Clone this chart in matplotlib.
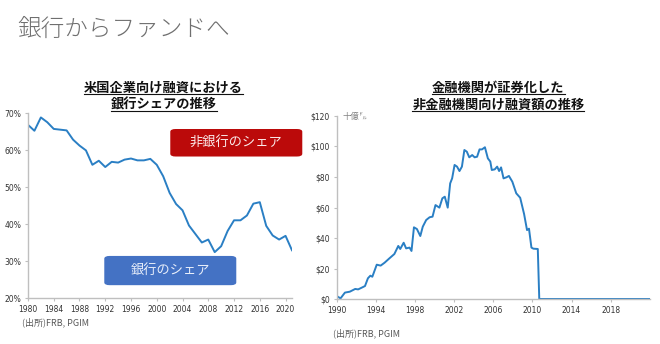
import matplotlib
matplotlib.use("Agg")
import matplotlib.pyplot as plt
from matplotlib.patches import FancyBboxPatch

plt.rcParams['font.family'] = ['Noto Sans CJK JP', 'DejaVu Sans']

# left chart: bank share of US corporate lending (%)
share_years = list(range(1980, 2022))
bank_share = [66.8, 65.2, 68.8, 67.5, 65.7, 65.5, 65.3, 62.8, 61.2, 59.9,
              56.0, 57.1, 55.4, 56.8, 56.6, 57.4, 57.7, 57.2, 57.2, 57.6,
              56.0, 52.9, 48.4, 45.4, 43.7, 39.6, 37.3, 35.0, 35.8, 32.4,
              34.0, 38.1, 41.0, 41.0, 42.3, 45.5, 45.9, 39.5, 36.9, 35.8,
              36.8, 32.9]
share_ticks = list(range(1980, 2021, 4))
pct_ticks = [20, 30, 40, 50, 60, 70]

# right chart: securitized loans to non-financial firms ($bn)
sec_years = [1990.0, 1990.4, 1990.85, 1991.35, 1991.9, 1992.2, 1992.65, 1992.9,
             1993.2, 1993.45, 1993.65, 1994.1, 1994.5, 1994.9, 1995.4, 1995.9,
             1996.3, 1996.5, 1996.85, 1997.1, 1997.45, 1997.65, 1997.9, 1998.2,
             1998.55, 1998.8, 1999.15, 1999.5, 1999.8, 2000.1, 2000.5, 2000.8,
             2001.05, 2001.35, 2001.6, 2001.8, 2002.05, 2002.3, 2002.55, 2002.8,
             2003.05, 2003.3, 2003.55, 2003.85, 2004.1, 2004.35, 2004.6, 2004.85,
             2005.15, 2005.45, 2005.7, 2005.85, 2006.15, 2006.4, 2006.6, 2006.8,
             2007.05, 2007.35, 2007.6, 2007.95, 2008.35, 2008.75, 2009.15, 2009.45,
             2009.65, 2009.9, 2010.1, 2010.55, 2010.7, 2014.0, 2018.0, 2022.0]
sec_values = [2.0, 0.4, 4.2, 4.8, 6.6, 6.3, 7.7, 8.5,
              13.6, 15.3, 14.6, 22.5, 21.9, 23.8, 26.7, 29.5,
              34.8, 32.8, 36.9, 33.2, 33.7, 31.5, 47.0, 45.9,
              41.3, 47.4, 51.8, 53.6, 54.0, 61.6, 59.9, 66.0,
              67.1, 59.9, 75.8, 79.1, 87.9, 86.8, 83.9, 86.8,
              97.7, 96.6, 92.9, 94.4, 92.9, 93.3, 98.1, 98.1,
              99.5, 92.2, 90.1, 84.6, 85.0, 86.8, 83.9, 86.3,
              79.1, 79.8, 80.7, 76.9, 69.3, 66.4, 55.7, 45.2,
              46.1, 33.7, 33.0, 32.8, 0.0, 0.0, 0.0, 0.0]
sec_ticks = list(range(1990, 2019, 4))
usd_ticks = [0, 20, 40, 60, 80, 100, 120]

line_color = '#2a7fc4'
axis_color = '#bfbfbf'
tick_font = ['Liberation Sans Narrow', 'DejaVu Sans']

fig = plt.figure(figsize=(6.6, 3.44), dpi=100)
fig.patch.set_facecolor('white')

fig.text(0.026, 0.915, '銀行からファンドへ', fontsize=17, color='#6f6f6f',
         fontweight='light', va='center')


def style_axes(ax):
    for side in ['top', 'right']:
        ax.spines[side].set_visible(False)
    for side in ['left', 'bottom']:
        ax.spines[side].set_color(axis_color)
        ax.spines[side].set_linewidth(1.0)
    ax.tick_params(length=2, width=0.8, color=axis_color, labelsize=5.5,
                   labelcolor='#333333', pad=3)
    for lab in ax.get_xticklabels() + ax.get_yticklabels():
        lab.set_family(tick_font)


# left chart
ax1 = fig.add_axes([0.0424, 0.1337, 0.4, 0.5378])
ax1.plot(share_years, bank_share, color=line_color, lw=1.4)
ax1.set_xlim(1980, 2021)
ax1.set_ylim(20, 70)
ax1.set_xticks(share_ticks)
ax1.set_yticks(pct_ticks)
ax1.set_yticklabels([f'{v}%' for v in pct_ticks])
style_axes(ax1)

for i, line in enumerate(['米国企業向け融資における', '銀行シェアの推移']):
    fig.text(0.248, 0.745 - i * 0.05, line, fontsize=9.5, fontweight='bold',
             ha='center', va='center', color='#111111')

# boxes
red_box = FancyBboxPatch((0.258, 0.545), 0.2, 0.08, boxstyle='round,pad=0,rounding_size=0.008',
                         transform=fig.transFigure, facecolor='#bb0a0a', edgecolor='none')
blue_box = FancyBboxPatch((0.158, 0.171), 0.2, 0.085, boxstyle='round,pad=0,rounding_size=0.008',
                          transform=fig.transFigure, facecolor='#4472c4', edgecolor='none')
fig.patches.extend([red_box, blue_box])
fig.text(0.358, 0.585, '非銀行のシェア', fontsize=9.5, color='#fbeaea', ha='center', va='center')
fig.text(0.258, 0.213, '銀行のシェア', fontsize=9.5, color='#e8eefa', ha='center', va='center')

fig.text(0.033, 0.064, '(出所)FRB, PGIM', fontsize=6.5, color='#595959', va='center')

# right chart
ax2 = fig.add_axes([0.510, 0.1308, 0.4747, 0.532])
ax2.plot(sec_years, sec_values, color=line_color, lw=1.4)
ax2.set_xlim(1990, 2022)
ax2.set_ylim(0, 120)
ax2.set_xticks(sec_ticks)
ax2.set_yticks(usd_ticks)
ax2.set_yticklabels([f'${v}' for v in usd_ticks])
style_axes(ax2)
ax2.text(0.02, 120, '十億㌦', fontsize=6, color='#808080', va='center',
         transform=ax2.get_yaxis_transform())

for i, line in enumerate(['金融機関が証券化した', '非金融機関向け融資額の推移']):
    fig.text(0.755, 0.745 - i * 0.05, line, fontsize=9.5, fontweight='bold',
             ha='center', va='center', color='#111111')

fig.text(0.505, 0.032, '(出所)FRB, PGIM', fontsize=6.5, color='#595959', va='center')

# underline the subtitles
fig.canvas.draw()
renderer = fig.canvas.get_renderer()
for t in fig.texts:
    if t.get_fontweight() == 'bold' and t.get_text():
        bb = t.get_window_extent(renderer).transformed(fig.transFigure.inverted())
        fig.add_artist(plt.Line2D([bb.x0, bb.x1], [bb.y0 + 0.002, bb.y0 + 0.002],
                                  transform=fig.transFigure, color='#111111', lw=0.8))

fig.savefig('out.png', dpi=100)
